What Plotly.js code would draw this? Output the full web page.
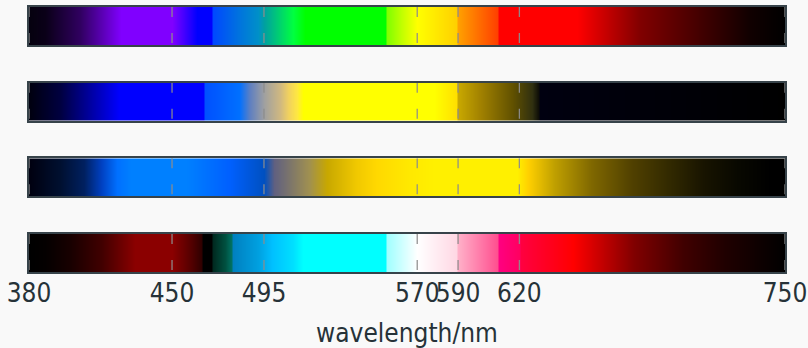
<!DOCTYPE html>
<html>
<head>
<meta charset="utf-8">
<script src="https://cdn.plot.ly/plotly-3.0.1.min.js"></script>
<style>html,body{margin:0;padding:0;background:#f9f9f9;}#chart{width:808px;height:348px;}</style>
</head>
<body>
<div id="chart"></div>
<script>
// Row 1 colour stops (wavelength in nm, colour at that wavelength)
const row1Stops  = [380, 388, 405, 425, 450, 462, 469, 470, 482, 492, 495, 500, 509, 515, 554, 555, 562, 570, 589, 590, 609, 610, 648, 679, 717, 733, 750];
const row1Colors = ['#05010f','#0a0018','#300060','#8000ff','#8000ff','#0000ff','#0000ff','#0048ff','#0070e0','#0090c8','#00a0a0','#00c080','#00ff40','#00ff00','#00ff00','#80ff00','#c0ff00','#ffff00','#ffd000','#ffa000','#ff4000','#ff0000','#ff0000','#800000','#300000','#100000','#000000'];

// Row 2 colour stops
const row2Stops  = [380, 395, 424, 465, 466, 483, 488, 495, 503, 507, 511, 514, 578, 589, 590, 601, 617, 626, 629, 630, 750];
const row2Colors = ['#00000f','#000040','#0000ff','#0000ff','#0050ff','#0070ff','#6080c0','#a0a0a0','#d0b880','#f0d060','#ffe840','#ffff00','#ffff00','#ffe000','#c8a800','#a08000','#605000','#303010','#101008','#000010','#000000'];

// Row 3 colour stops
const row3Stops  = [380, 395, 407, 415, 423, 430, 457, 478, 495, 500, 517, 526, 540, 550, 565, 578, 619, 624, 637, 655, 675, 694, 710, 727, 743, 750];
const row3Colors = ['#000010','#001030','#002060','#0040c0','#0070ff','#0080ff','#0080ff','#0060ff','#0050c0','#606080','#a09050','#c8a800','#f0c800','#ffd800','#ffe800','#fff000','#fff000','#ffd000','#c0a000','#806800','#504000','#302800','#181400','#080800','#000000','#000000'];

// Row 4 colour stops
const row4Stops  = [380, 388, 400, 415, 432, 450, 460, 464, 465, 469, 470, 476, 479, 480, 492, 499, 509, 514, 554, 555, 570, 589, 590, 609, 610, 620, 621, 646, 676, 700, 720, 735, 750];
const row4Colors = ['#000000','#040000','#180000','#400000','#8b0000','#8b0000','#500000','#300000','#000000','#000000','#002a20','#005040','#007060','#0080c0','#00a0e0','#00c0ff','#00e0ff','#00ffff','#00ffff','#a0ffff','#ffffff','#ffd8e4','#ffb0c8','#ff5090','#ff0080','#ff0060','#ff0040','#ff0000','#800000','#400000','#200000','#100000','#000000'];

// Axis ticks
const tickValues = [380, 450, 495, 570, 590, 620, 750];
const tickLabels = ['380', '450', '495', '570', '590', '620', '750'];
const xTitle = 'wavelength/nm';

const allStops = [row1Stops, row2Stops, row3Stops, row4Stops];
const allColors = [row1Colors, row2Colors, row3Colors, row4Colors];

const XMIN = 380, XMAX = 750;
const traces = [];
allStops.forEach((stops, i) => {
  const cols = allColors[i];
  const cs = stops.map((s, k) => [(s - XMIN) / (XMAX - XMIN), cols[k]]);
  const n = i === 0 ? '' : String(i + 1);
  traces.push({
    type: 'heatmap',
    x: stops,
    y: [0.25, 0.75],
    z: [stops, stops],
    zsmooth: 'best',
    zmin: XMIN, zmax: XMAX,
    colorscale: cs,
    showscale: false,
    hoverinfo: 'skip',
    xaxis: 'x' + n, yaxis: 'y' + n
  });
  const gx = [], gy = [];
  tickValues.forEach(t => { gx.push(t, t, null); gy.push(1, 0, null); });
  traces.push({
    type: 'scatter', mode: 'lines',
    x: gx, y: gy,
    line: {color: 'rgba(140,140,140,0.95)', width: 1.3, dash: '10px,16px'},
    hoverinfo: 'skip', showlegend: false,
    xaxis: 'x' + n, yaxis: 'y' + n
  });
});

const fontFam = '"DejaVu Sans Condensed", "Liberation Sans", sans-serif';
const textColor = '#263238';
const H = 265; // plot height in px
const barH = 38, pitch = 227 / 3;
const layout = {
  width: 808, height: 348,
  margin: {l: 29, r: 23, t: 7, b: 76},
  paper_bgcolor: '#f9f9f9', plot_bgcolor: '#f9f9f9',
  showlegend: false,
  font: {family: fontFam, color: textColor, size: 26}
};
for (let i = 0; i < 4; i++) {
  const n = i === 0 ? '' : String(i + 1);
  const top = 1 - (i * pitch) / H;
  const bot = 1 - (i * pitch + barH) / H;
  const isBottom = i === 3;
  layout['xaxis' + n] = {
    range: [XMIN, XMAX],
    anchor: 'y' + n,
    matches: i === 0 ? undefined : 'x',
    tickmode: 'array', tickvals: tickValues, ticktext: tickLabels,
    showticklabels: isBottom,
    tickangle: 0,
    ticklabeloverflow: 'allow',
    ticklabelstandoff: -3,
    ticks: '', showgrid: false, zeroline: false,
    showline: true, mirror: true, linecolor: '#37434a', linewidth: 2,
    tickfont: {family: fontFam, size: 26, color: textColor},
    title: isBottom ? {text: xTitle, font: {family: fontFam, size: 26, color: textColor}, standoff: 17} : undefined,
    automargin: false,
    fixedrange: true
  };
  layout['yaxis' + n] = {
    domain: [Math.max(0, bot), Math.min(1, top)],
    range: [0, 1],
    anchor: 'x' + n,
    showticklabels: false, ticks: '', showgrid: false, zeroline: false,
    showline: true, mirror: true, linecolor: '#37434a', linewidth: 2,
    fixedrange: true
  };
}
Plotly.newPlot('chart', traces, layout, {displayModeBar: false, staticPlot: true});
</script>
</body>
</html>
